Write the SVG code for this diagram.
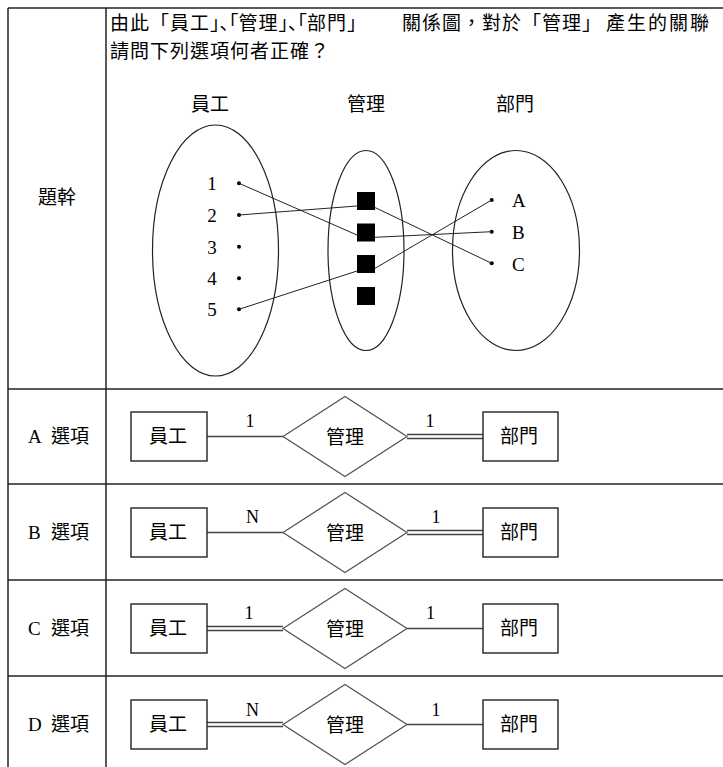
<svg xmlns="http://www.w3.org/2000/svg" width="723" height="767" viewBox="0 0 723 767">
<style>
.cjk{font-family:"Noto Sans CJK TC","Noto Sans CJK SC",sans-serif;font-size:19px;fill:#000}
.q{letter-spacing:1px}
.hp{font-family:"Noto Sans CJK JP","Noto Sans CJK TC",sans-serif;font-feature-settings:"halt" 1;letter-spacing:0}
.jp{font-family:"Noto Sans CJK JP","Noto Sans CJK TC",sans-serif;letter-spacing:0}
.ser{font-family:"Liberation Serif","Times New Roman",serif;font-size:19px;fill:#000}
.card{font-family:"Liberation Serif","Times New Roman",serif;font-size:18px;fill:#000;text-anchor:middle}
.grid{stroke:#222;stroke-width:1.5;fill:none}
.ell{fill:none;stroke:#222;stroke-width:1.2}
.lnk{stroke:#222;stroke-width:1;fill:none}
.ent{fill:#fff;stroke:#222;stroke-width:1.4}
.rel{fill:#fff;stroke:#555;stroke-width:1.3}
.single{stroke:#444;stroke-width:1.5}
.dblo{stroke:#444;stroke-width:5.5}
.dbli{stroke:#fff;stroke-width:2.5}
.mid{text-anchor:middle}
</style>
<rect width="723" height="767" fill="#fff"/>
<g id="table">
<line class="grid" x1="8" y1="8" x2="723" y2="8"/>
<line class="grid" x1="8" y1="8" x2="8" y2="767"/>
<line class="grid" x1="106" y1="8" x2="106" y2="767"/>
<line class="grid" x1="8" y1="389" x2="723" y2="389"/>
<line class="grid" x1="8" y1="484" x2="723" y2="484"/>
<line class="grid" x1="8" y1="580" x2="723" y2="580"/>
<line class="grid" x1="8" y1="676" x2="723" y2="676"/>
</g>
<g id="question">
<text class="cjk q" y="30"><tspan x="110">由此「員工</tspan><tspan class="hp">」、「</tspan><tspan>管理</tspan><tspan class="hp">」、「</tspan><tspan>部門</tspan><tspan class="jp">」</tspan><tspan x="402">關係圖，對於「管理」</tspan><tspan x="606" style="letter-spacing:2px">產生的關聯</tspan></text>
<text class="cjk q" x="110" y="58">請問下列選項何者正確？</text>
<text class="cjk mid" x="57" y="204">題幹</text>
</g>
<g id="venn">
<text class="cjk mid" x="210" y="111">員工</text>
<text class="cjk mid" x="366" y="111">管理</text>
<text class="cjk mid" x="515" y="111">部門</text>
<g id="set-employee">
<ellipse class="ell" cx="215.5" cy="250.5" rx="63" ry="125.5"/>
<g class="ser mid">
<text x="212" y="190">1</text>
<text x="212" y="222">2</text>
<text x="212" y="253.5">3</text>
<text x="212" y="285">4</text>
<text x="212" y="316">5</text>
</g>
<g fill="#000">
<circle cx="239" cy="183.3" r="2"/>
<circle cx="239" cy="215" r="2"/>
<circle cx="239" cy="246.7" r="2"/>
<circle cx="239" cy="278.3" r="2"/>
<circle cx="239" cy="309.3" r="2"/>
</g>
</g>
<g id="set-manage">
<ellipse class="ell" cx="366" cy="250.5" rx="38" ry="100"/>
<g fill="#000">
<rect x="357" y="192" width="18" height="18"/>
<rect x="357" y="223.5" width="18" height="18"/>
<rect x="357" y="255" width="18" height="18"/>
<rect x="357" y="287" width="18" height="18"/>
</g>
</g>
<g id="set-dept">
<ellipse class="ell" cx="516" cy="250.5" rx="63.5" ry="100"/>
<g fill="#000">
<circle cx="491.7" cy="200" r="2"/>
<circle cx="491.7" cy="231.7" r="2"/>
<circle cx="491.7" cy="263.3" r="2"/>
</g>
<g class="ser">
<text x="512" y="207.3">A</text>
<text x="512" y="239">B</text>
<text x="512" y="270.7">C</text>
</g>
</g>
<g id="venn-links">
<line class="lnk" x1="239" y1="183.3" x2="357" y2="235"/>
<line class="lnk" x1="239" y1="215" x2="357" y2="206"/>
<line class="lnk" x1="239" y1="309.3" x2="357" y2="271"/>
<line class="lnk" x1="375" y1="207.5" x2="491.7" y2="263.3"/>
<line class="lnk" x1="375" y1="237.3" x2="491.7" y2="231.7"/>
<line class="lnk" x1="375" y1="268.3" x2="491.7" y2="200"/>
</g>
</g>
<g id="labels">
<text y="443"><tspan class="ser" x="28">A</tspan><tspan class="cjk" x="51">選項</tspan></text>
<text y="539"><tspan class="ser" x="28">B</tspan><tspan class="cjk" x="51">選項</tspan></text>
<text y="635"><tspan class="ser" x="28">C</tspan><tspan class="cjk" x="51">選項</tspan></text>
<text y="731"><tspan class="ser" x="28">D</tspan><tspan class="cjk" x="51">選項</tspan></text>
</g>
<g id="connectors">
<line class="single" x1="207" y1="436.5" x2="283" y2="436.5"/>
<line class="dblo" x1="407" y1="436.5" x2="483" y2="436.5"/>
<line class="dbli" x1="406" y1="436.5" x2="483" y2="436.5"/>
<line class="single" x1="207" y1="532.5" x2="283" y2="532.5"/>
<line class="dblo" x1="407" y1="532.5" x2="483" y2="532.5"/>
<line class="dbli" x1="406" y1="532.5" x2="483" y2="532.5"/>
<line class="dblo" x1="207" y1="628.5" x2="283" y2="628.5"/>
<line class="dbli" x1="207" y1="628.5" x2="284" y2="628.5"/>
<line class="single" x1="407" y1="628.5" x2="483" y2="628.5"/>
<line class="dblo" x1="207" y1="724.5" x2="283" y2="724.5"/>
<line class="dbli" x1="207" y1="724.5" x2="284" y2="724.5"/>
<line class="single" x1="407" y1="724.5" x2="483" y2="724.5"/>
</g>
<g id="optA">
<g id="optA-emp"><rect class="ent" x="131" y="412" width="76" height="49"/><text class="cjk mid" x="168" y="443">員工</text></g>
<g id="optA-rel"><polygon class="rel" points="283,436.5 345,396.5 407,436.5 345,476.5"/><text class="cjk mid" x="345" y="444">管理</text></g>
<g id="optA-dept"><rect class="ent" x="483" y="412" width="75" height="49"/><text class="cjk mid" x="519" y="443">部門</text></g>
<text class="card" x="250" y="427">1</text>
<text class="card" x="430" y="427">1</text>
</g>
<g id="optB">
<g id="optB-emp"><rect class="ent" x="131" y="508" width="76" height="49"/><text class="cjk mid" x="168" y="539">員工</text></g>
<g id="optB-rel"><polygon class="rel" points="283,532.5 345,492.5 407,532.5 345,572.5"/><text class="cjk mid" x="345" y="540">管理</text></g>
<g id="optB-dept"><rect class="ent" x="483" y="508" width="75" height="49"/><text class="cjk mid" x="519" y="539">部門</text></g>
<text class="card" x="252.5" y="522.5">N</text>
<text class="card" x="436" y="522.5">1</text>
</g>
<g id="optC">
<g id="optC-emp"><rect class="ent" x="131" y="604" width="76" height="49"/><text class="cjk mid" x="168" y="635">員工</text></g>
<g id="optC-rel"><polygon class="rel" points="283,628.5 345,588.5 407,628.5 345,668.5"/><text class="cjk mid" x="345" y="636">管理</text></g>
<g id="optC-dept"><rect class="ent" x="483" y="604" width="75" height="49"/><text class="cjk mid" x="519" y="635">部門</text></g>
<text class="card" x="249" y="619">1</text>
<text class="card" x="430.5" y="619">1</text>
</g>
<g id="optD">
<g id="optD-emp"><rect class="ent" x="131" y="700" width="76" height="49"/><text class="cjk mid" x="168" y="731">員工</text></g>
<g id="optD-rel"><polygon class="rel" points="283,724.5 345,684.5 407,724.5 345,764.5"/><text class="cjk mid" x="345" y="732">管理</text></g>
<g id="optD-dept"><rect class="ent" x="483" y="700" width="75" height="49"/><text class="cjk mid" x="519" y="731">部門</text></g>
<text class="card" x="252.5" y="715.5">N</text>
<text class="card" x="436" y="715.5">1</text>
</g>
</svg>
